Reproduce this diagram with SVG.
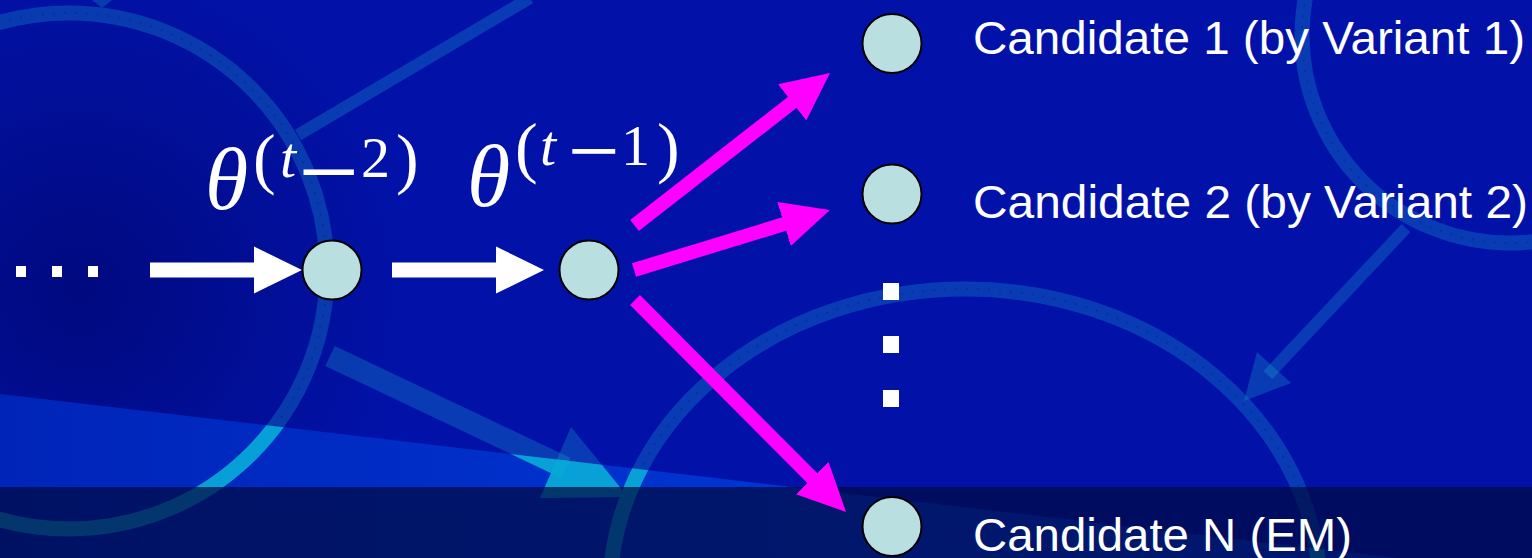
<svg xmlns="http://www.w3.org/2000/svg" width="1532" height="558" viewBox="0 0 1532 558">
  <style>
    .ring { fill: none; stroke: #1aa0d0; stroke-opacity: 0.3; stroke-width: 15; }
    .ringdot { fill: none; stroke: #0a1a8a; stroke-opacity: 0.35; stroke-width: 2; stroke-dasharray: 2 9; }
    .ringlit { fill: none; stroke: #08a8d8; stroke-opacity: 0.9; stroke-width: 15; }
    .bgline { fill: none; stroke: #1aa0d0; stroke-opacity: 0.3; }
    .bghead { fill: #1aa0d0; fill-opacity: 0.3; }
    .node { fill: #b9dfe1; stroke: #000; stroke-width: 2; }
    .label { font-family: "Liberation Sans", Arial, sans-serif; font-size: 47px; fill: #fff; }
    .math { font-family: "Liberation Serif", "Times New Roman", serif; fill: #fff; }
    .it { font-style: italic; }
    .mag { stroke: #ff00ff; stroke-width: 14; fill: none; marker-end: url(#headMag); }
    .wht { stroke: #fff; stroke-width: 15; fill: none; marker-end: url(#headWht); }
    .dot { fill: #fff; }
  </style>
  <defs>
    <radialGradient id="darkSpot" cx="80" cy="290" r="330" gradientUnits="userSpaceOnUse">
      <stop offset="0" stop-color="#000878" stop-opacity="0.85"/>
      <stop offset="1" stop-color="#000878" stop-opacity="0"/>
    </radialGradient>
    <linearGradient id="beamGrad" x1="0" y1="0" x2="900" y2="0" gradientUnits="userSpaceOnUse">
      <stop offset="0" stop-color="#0024b8"/>
      <stop offset="1" stop-color="#0038d6"/>
    </linearGradient>
    <clipPath id="beamClip">
      <polygon points="0,394 1532,574 1532,600 0,600"/>
    </clipPath>
    <marker id="headMag" markerUnits="userSpaceOnUse" markerWidth="48" markerHeight="48" viewBox="0 0 48 48" refX="6" refY="24" orient="auto">
      <path d="M0,1 L48,24 L0,47 z" fill="#ff00ff"/>
    </marker>
    <marker id="headWht" markerUnits="userSpaceOnUse" markerWidth="48" markerHeight="48" viewBox="0 0 48 48" refX="6" refY="24" orient="auto">
      <path d="M0,0.5 L48,24 L0,47.5 z" fill="#fff"/>
    </marker>
  </defs>

  <!-- background -->
  <g id="background">
    <rect x="0" y="0" width="1532" height="558" fill="#0212a8"/>
    <rect x="0" y="0" width="1532" height="558" fill="url(#darkSpot)"/>
    <polygon points="0,394 1532,574 1532,600 0,600" fill="url(#beamGrad)"/>
    <circle class="ring" cx="69" cy="271" r="258"/>
    <circle class="ringdot" cx="69" cy="271" r="258"/>
    <ellipse class="ring" cx="965" cy="591" rx="355" ry="302"/>
    <ellipse class="ringdot" cx="965" cy="591" rx="355" ry="302"/>
    <circle class="ring" cx="1510" cy="35" r="208"/>
    <circle class="ringdot" cx="1510" cy="35" r="208"/>
    <line class="bgline" x1="298" y1="135" x2="530" y2="-2" stroke-width="12"/>
    <polygon class="bghead" points="92,0 112,0 102,8"/>
    <line class="bgline" x1="330" y1="356" x2="566" y2="468" stroke-width="22"/>
    <polygon class="bghead" points="571,427 628,497 540,498"/>
    <line class="bgline" x1="1406" y1="228" x2="1268" y2="375" stroke-width="12"/>
    <polygon class="bghead" points="1244,401 1257,352 1291,383"/>
    <g clip-path="url(#beamClip)">
      <circle class="ringlit" cx="69" cy="271" r="258"/>
      <ellipse class="ringlit" cx="965" cy="591" rx="355" ry="302"/>
      <line x1="330" y1="356" x2="566" y2="468" stroke="#08a8d8" stroke-opacity="0.9" stroke-width="22"/>
      <polygon points="571,427 628,497 540,498" fill="#08a8d8" fill-opacity="0.9"/>
    </g>
    <rect x="0" y="487" width="1532" height="71" fill="#000a40" fill-opacity="0.7"/>
  </g>

  <!-- connectors -->
  <g id="connectors">
    <g id="ellipsis-dots">
      <rect class="dot" x="16" y="266" width="10" height="11"/>
      <rect class="dot" x="52" y="266" width="10" height="11"/>
      <rect class="dot" x="88" y="266" width="10" height="11"/>
    </g>
    <line class="wht" x1="150" y1="270" x2="260" y2="270"/>
    <line class="wht" x1="392" y1="270" x2="502" y2="270"/>
    <line class="mag" x1="634.5" y1="225.5" x2="796.9" y2="98.8"/>
    <line class="mag" x1="634" y1="270" x2="789.8" y2="222.3"/>
    <line class="mag" x1="635" y1="300" x2="816.4" y2="482.2"/>
    <g id="vertical-dots">
      <rect class="dot" x="883" y="283" width="16" height="17"/>
      <rect class="dot" x="883" y="336" width="16" height="17"/>
      <rect class="dot" x="883" y="390" width="16" height="17"/>
    </g>
  </g>

  <!-- nodes -->
  <g id="node-theta-t2">
    <circle class="node" cx="332" cy="270" r="29.5"/>
    <text class="math"><tspan class="it" x="205" y="209" font-size="88">θ</tspan><tspan x="253" y="181" font-size="68">(</tspan><tspan class="it" x="280" y="177" font-size="58">t</tspan><tspan x="298" y="208" font-size="108">−</tspan><tspan x="361" y="177" font-size="58">2</tspan><tspan x="396" y="181" font-size="68">)</tspan></text>
  </g>
  <g id="node-theta-t1">
    <circle class="node" cx="589" cy="270" r="29.5"/>
    <text class="math"><tspan class="it" x="467" y="206" font-size="88">θ</tspan><tspan x="515" y="170" font-size="68">(</tspan><tspan class="it" x="540" y="165" font-size="58">t</tspan><tspan x="568" y="182" font-size="92">−</tspan><tspan x="621" y="165" font-size="58">1</tspan><tspan x="657" y="170" font-size="68">)</tspan></text>
  </g>
  <g id="node-candidate-1">
    <circle class="node" cx="892" cy="43.5" r="29.5"/>
    <text class="label" x="973" y="53.5" textLength="552" lengthAdjust="spacingAndGlyphs">Candidate 1 (by Variant 1)</text>
  </g>
  <g id="node-candidate-2">
    <circle class="node" cx="892" cy="194" r="29.5"/>
    <text class="label" x="973" y="218" textLength="555" lengthAdjust="spacingAndGlyphs">Candidate 2 (by Variant 2)</text>
  </g>
  <g id="node-candidate-n">
    <circle class="node" cx="892" cy="526.5" r="29.5"/>
    <text class="label" x="973" y="551" textLength="379" lengthAdjust="spacingAndGlyphs">Candidate N (EM)</text>
  </g>
</svg>
